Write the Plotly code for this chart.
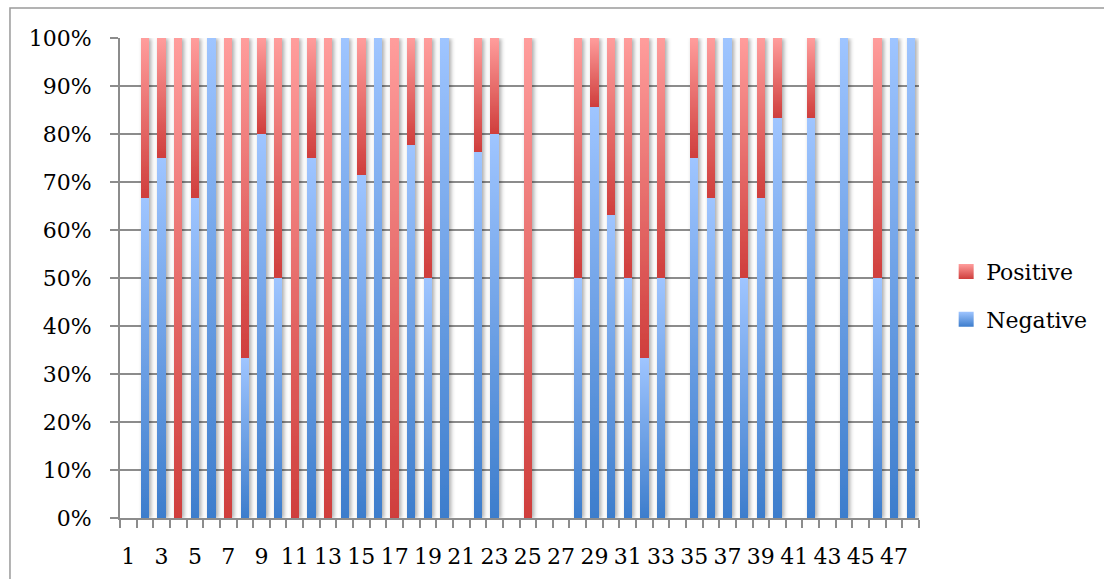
import json
import plotly.graph_objects as go

# Share of negative / positive items per category (percent of the category total)
categories = list(range(1, 49))
negative = [None, 66.7, 75, 0, 66.7, 100, 0, 33.3, 80, 50,
            0, 75, 0, 100, 71.4, 100, 0, 77.8, 50, 100,
            None, 76.3, 80, None, 0, None, None, 50, 85.7, 63.1,
            50, 33.3, 50, None, 75, 66.7, 100, 50, 66.7, 83.3,
            None, 83.3, None, 100, None, 50, 100, 100]
positive = [None, 33.3, 25, 100, 33.3, 0, 100, 66.7, 20, 50,
            100, 25, 100, 0, 28.6, 0, 100, 22.2, 50, 0,
            None, 23.7, 20, None, 100, None, None, 50, 14.3, 36.9,
            50, 66.7, 50, None, 25, 33.3, 0, 50, 33.3, 16.7,
            None, 16.7, None, 0, None, 50, 0, 0]
tick_values = [c for c in categories if c % 2 == 1]
tick_labels = [str(c) for c in tick_values]

FONT = "DejaVu Serif"
GRID = "#8c8c8c"

# Vertical gradients (bottom -> top) for each series
gradients = {
    "Negative": [[0, "#3d7dcc"], [1, "#9fc5ff"]],
    "Positive": [[0, "#cf3e3c"], [1, "#ff9d9c"]],
}

fig = go.Figure()
fig.add_trace(go.Bar(x=categories, y=negative, name="Negative",
                     legendgroup="neg", legendrank=2,
                     marker=dict(color="#6e9fe6", line=dict(width=0))))
fig.add_trace(go.Bar(x=categories, y=positive, name="Positive",
                     legendgroup="pos", legendrank=1,
                     marker=dict(color="#e96f6d", line=dict(width=0))))

fig.update_layout(
    width=1104, height=579,
    margin=dict(l=120, r=185, t=38, b=61, autoexpand=False),
    barmode="stack", bargap=0.5,
    paper_bgcolor="white", plot_bgcolor="white",
    font=dict(family=FONT, size=22, color="black"),
    showlegend=True,
    legend=dict(x=1.034, xanchor="left", y=0.463, yanchor="middle",
                traceorder="grouped", tracegroupgap=16,
                font=dict(family=FONT, size=22), bgcolor="rgba(0,0,0,0)"),
    shapes=[dict(type="rect", xref="paper", yref="paper",
                 x0=-0.1377, x1=1.6, y0=-0.6, y1=1.0625,
                 line=dict(color="#9a9a9a", width=1.5), layer="below")],
)

fig.update_xaxes(
    range=[0.5, 48.5], tickmode="array", tickvals=tick_values, ticktext=tick_labels,
    ticks="", ticklabelstandoff=18, showgrid=False,
    showline=True, linecolor=GRID, linewidth=2,
    minor=dict(ticks="outside", tick0=0.5, dtick=1, ticklen=8,
               tickcolor=GRID, tickwidth=2, showgrid=False),
    tickfont=dict(family=FONT, size=22), zeroline=False,
)
fig.update_yaxes(
    range=[0, 100], dtick=10, ticksuffix="%",
    ticks="outside", ticklen=8, tickcolor=GRID, tickwidth=2,
    ticklabelstandoff=14,
    showgrid=True, gridcolor=GRID, gridwidth=2,
    showline=True, linecolor=GRID, linewidth=2, zeroline=False,
    tickfont=dict(family=FONT, size=22),
)

# Gradient fills and a soft drop shadow for the bars, applied after each render
post_js = "var GRADIENTS = " + json.dumps(gradients) + ";\n" + r"""
var NS = 'http://www.w3.org/2000/svg';
var gd = document.getElementById('{plot_id}');
function ensureDefs() {
  if (document.getElementById('bar-shadow')) return;
  var svg = gd.querySelector('svg.main-svg');
  var defs = document.createElementNS(NS, 'defs');
  Object.keys(GRADIENTS).forEach(function (name) {
    var g = document.createElementNS(NS, 'linearGradient');
    g.setAttribute('id', 'grad-' + name);
    g.setAttribute('x1', '0'); g.setAttribute('y1', '1');
    g.setAttribute('x2', '0'); g.setAttribute('y2', '0');
    GRADIENTS[name].forEach(function (s) {
      var st = document.createElementNS(NS, 'stop');
      st.setAttribute('offset', s[0]);
      st.setAttribute('stop-color', s[1]);
      g.appendChild(st);
    });
    defs.appendChild(g);
  });
  var f = document.createElementNS(NS, 'filter');
  f.setAttribute('id', 'bar-shadow');
  f.setAttribute('x', '-5%'); f.setAttribute('y', '-5%');
  f.setAttribute('width', '110%'); f.setAttribute('height', '110%');
  var ds = document.createElementNS(NS, 'feDropShadow');
  ds.setAttribute('dx', '2'); ds.setAttribute('dy', '0.5');
  ds.setAttribute('stdDeviation', '2');
  ds.setAttribute('flood-color', '#000'); ds.setAttribute('flood-opacity', '0.35');
  f.appendChild(ds);
  defs.appendChild(f);
  svg.insertBefore(defs, svg.firstChild);
}
function shade() {
  ensureDefs();
  gd.querySelectorAll('.barlayer .trace').forEach(function (g) {
    var name = g.__data__[0].trace.name;
    g.querySelectorAll('path').forEach(function (p) {
      p.style.fill = 'url(#grad-' + name + ')';
    });
  });
  gd.querySelectorAll('.barlayer').forEach(function (l) {
    l.setAttribute('filter', 'url(#bar-shadow)');
  });
  gd.querySelectorAll('.legend .traces').forEach(function (t) {
    var name = t.__data__[0].trace.name;
    t.querySelectorAll('.legendpoints path').forEach(function (p) {
      p.style.fill = 'url(#grad-' + name + ')';
      if (!p.hasAttribute('data-scaled')) {
        var tr = p.getAttribute('transform') || '';
        p.setAttribute('transform', tr + ' scale(1.25)');
        p.setAttribute('data-scaled', '1');
      }
    });
  });
}
gd.on('plotly_afterplot', shade);
shade();
"""

fig.write_html("out.html", post_script=post_js, config={"displayModeBar": False})
